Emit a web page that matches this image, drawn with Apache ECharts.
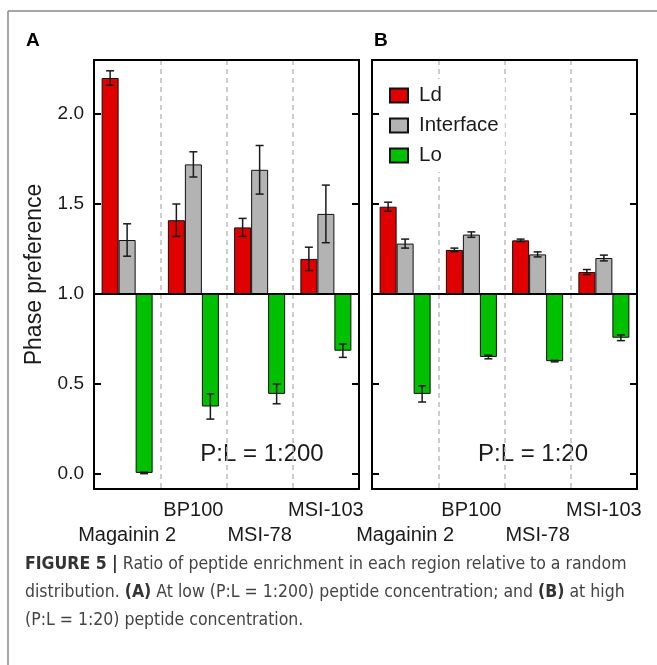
<!DOCTYPE html>
<html>
<head>
<meta charset="utf-8">
<script src="https://cdn.jsdelivr.net/npm/echarts@6/dist/echarts.min.js"></script>
<style>
  html, body { margin: 0; padding: 0; background: #fff; }
  #chart { width: 657px; height: 665px; }
</style>
</head>
<body>
<div id="chart"></div>
<script>
var peptides = ['Magainin 2', 'BP100', 'MSI-78', 'MSI-103'];
var phases = ['Ld', 'Interface', 'Lo'];
var phaseColors = ['#e00000', '#b3b3b3', '#00c000'];

// panel A, P:L = 1:200
var ldA = [2.20, 1.41, 1.37, 1.195];
var ldErrA = [0.04, 0.09, 0.05, 0.065];
var intA = [1.30, 1.72, 1.69, 1.445];
var intErrA = [0.09, 0.07, 0.135, 0.16];
var loA = [0.006, 0.375, 0.445, 0.685];
var loErrA = [0.004, 0.07, 0.055, 0.037];

// panel B, P:L = 1:20
var ldB = [1.485, 1.245, 1.298, 1.122];
var ldErrB = [0.025, 0.01, 0.007, 0.014];
var intB = [1.28, 1.33, 1.22, 1.20];
var intErrB = [0.025, 0.015, 0.014, 0.016];
var loB = [0.445, 0.65, 0.627, 0.757];
var loErrB = [0.045, 0.01, 0.004, 0.016];

var yTicks = [0.0, 0.5, 1.0, 1.5, 2.0];
var yMin = -0.0833, yMax = 2.3;
var base = 1.0; // bars grow from 1.0

var FONT = '"Liberation Sans", Arial, sans-serif';
var barW = 17;
var frame = { show: true, lineStyle: { color: '#000', width: 2 } };

var chartDom = document.getElementById('chart');
var myChart = echarts.init(chartDom);

// values are shifted so that the bars start at 1.0
function shift(arr) { return arr.map(function (v) { return v - base; }); }
var tickShifted = yTicks.map(function (v) { return v - base; });

function errData(vals, errs) {
  return vals.map(function (v, i) { return [i, v - base, errs[i]]; });
}

function errRender(offset) {
  return function (params, api) {
    var i = api.value(0), v = api.value(1), e = api.value(2);
    var top = api.coord([i, v + e]);
    var bot = api.coord([i, v - e]);
    var x = top[0] + offset;
    var st = { stroke: '#1a1a1a', lineWidth: 1.5 };
    return {
      type: 'group',
      children: [
        { type: 'line', shape: { x1: x, y1: top[1], x2: x, y2: bot[1] }, style: st },
        { type: 'line', shape: { x1: x - 4, y1: top[1], x2: x + 4, y2: top[1] }, style: st },
        { type: 'line', shape: { x1: x - 4, y1: bot[1], x2: x + 4, y2: bot[1] }, style: st }
      ]
    };
  };
}

function xAxisFor(gi) {
  return {
    type: 'category', gridIndex: gi, data: peptides, boundaryGap: true, position: 'bottom',
    axisLine: { show: true, onZero: false, lineStyle: frame.lineStyle }, axisTick: { show: false },
    axisLabel: {
      interval: 0, margin: 9, fontSize: 20, lineHeight: 25, color: '#1a1a1a', fontFamily: FONT,
      formatter: function (v, i) { return i % 2 === 0 ? '\n' + v : v; }
    },
    splitLine: {
      show: true, interval: 0, showMinLine: false, showMaxLine: false,
      lineStyle: { color: '#bdbdbd', width: 1.5, type: [5, 4] }
    }
  };
}

// top edge of the box only
function xTopFor(gi) {
  return {
    type: 'category', gridIndex: gi, data: peptides, position: 'top',
    axisLine: { show: true, onZero: false, lineStyle: frame.lineStyle },
    axisTick: { show: false }, axisLabel: { show: false }, splitLine: { show: false }
  };
}

function yAxisFor(gi, pos, labels) {
  var ax = {
    type: 'value', gridIndex: gi, position: pos, min: yMin - base, max: yMax - base,
    axisLine: { show: true, onZero: false, lineStyle: frame.lineStyle }, splitLine: { show: false },
    axisTick: { show: true, inside: true, length: 7, customValues: tickShifted, lineStyle: { color: '#000', width: 2 } },
    axisLabel: {
      show: labels, customValues: tickShifted, margin: 10, fontSize: 19, color: '#1a1a1a', fontFamily: FONT,
      formatter: function (v) { return (v + base).toFixed(1); }
    }
  };
  if (labels) {
    ax.name = 'Phase preference';
    ax.nameLocation = 'middle';
    ax.nameGap = 48;
    ax.nameTextStyle = { fontSize: 23, color: '#1a1a1a', fontFamily: FONT };
  }
  return ax;
}

function panelSeries(xi, yi, vals, errs) {
  var out = [];
  vals.forEach(function (arr, k) {
    var s = {
      name: phases[k], type: 'bar', xAxisIndex: xi, yAxisIndex: yi,
      data: shift(arr), barWidth: barW, barGap: '0%',
      itemStyle: { color: phaseColors[k], borderColor: '#111', borderWidth: 1 }
    };
    if (k === 0) {
      s.markLine = {
        silent: true, symbol: 'none', label: { show: false },
        lineStyle: { color: '#000', width: 2, type: 'solid' },
        data: [{ yAxis: 0 }]
      };
    }
    out.push(s);
  });
  vals.forEach(function (arr, k) {
    out.push({
      type: 'custom', xAxisIndex: xi, yAxisIndex: yi, z: 5,
      renderItem: errRender((k - 1) * barW),
      data: errData(arr, errs[k])
    });
  });
  return out;
}

var series = []
  .concat(panelSeries(0, 0, [ldA, intA, loA], [ldErrA, intErrA, loErrA]))
  .concat(panelSeries(1, 2, [ldB, intB, loB], [ldErrB, intErrB, loErrB]));

var capFont = '"DejaVu Sans Condensed", "Liberation Sans Narrow", "Liberation Sans", sans-serif';
function capText(y, txt) {
  return {
    type: 'text', left: 25, top: y,
    style: {
      text: txt, fontFamily: capFont, fontSize: 17.5, fill: '#444',
      rich: { b: { fontWeight: 'bold', fontFamily: capFont, fontSize: 17.5, fill: '#333' } }
    }
  };
}

var option = {
  animation: false,
  grid: [
    { left: 94, right: 298, top: 60, bottom: 176 },
    { left: 372, right: 20, top: 60, bottom: 176 }
  ],
  legend: {
    data: phases, orient: 'vertical', left: 383, top: 79, icon: 'rect',
    backgroundColor: '#fff', padding: [6, 6, 6, 6],
    itemWidth: 18, itemHeight: 14, itemGap: 9,
    textStyle: { fontSize: 20.5, color: '#1a1a1a', fontFamily: FONT, padding: [0, 0, 0, 6] }
  },
  xAxis: [xAxisFor(0), xAxisFor(1), xTopFor(0), xTopFor(1)],
  yAxis: [yAxisFor(0, 'left', true), yAxisFor(0, 'right', false), yAxisFor(1, 'left', false), yAxisFor(1, 'right', false)],
  series: series,
  graphic: [
    { type: 'line', shape: { x1: 8, y1: 11, x2: 657, y2: 11 }, style: { stroke: '#888', lineWidth: 1.5 } },
    { type: 'line', shape: { x1: 8, y1: 11, x2: 8, y2: 665 }, style: { stroke: '#888', lineWidth: 1.5 } },
    { type: 'text', left: 26, top: 31, style: { text: 'A', fontSize: 19, fontWeight: 'bold', fontFamily: FONT, fill: '#000' } },
    { type: 'text', left: 374, top: 31, style: { text: 'B', fontSize: 19, fontWeight: 'bold', fontFamily: FONT, fill: '#000' } },
    { type: 'text', x: 262, y: 454, style: { text: 'P:L = 1:200', fontSize: 24, fontFamily: FONT, fill: '#1a1a1a', align: 'center', verticalAlign: 'middle' } },
    { type: 'text', x: 533, y: 454, style: { text: 'P:L = 1:20', fontSize: 24, fontFamily: FONT, fill: '#1a1a1a', align: 'center', verticalAlign: 'middle' } },
    capText(555, '{b|FIGURE 5 |} Ratio of peptide enrichment in each region relative to a random'),
    capText(583, 'distribution. {b|(A)} At low (P:L = 1:200) peptide concentration; and {b|(B)} at high'),
    capText(611, '(P:L = 1:20) peptide concentration.')
  ]
};

option && myChart.setOption(option);
</script>
</body>
</html>
